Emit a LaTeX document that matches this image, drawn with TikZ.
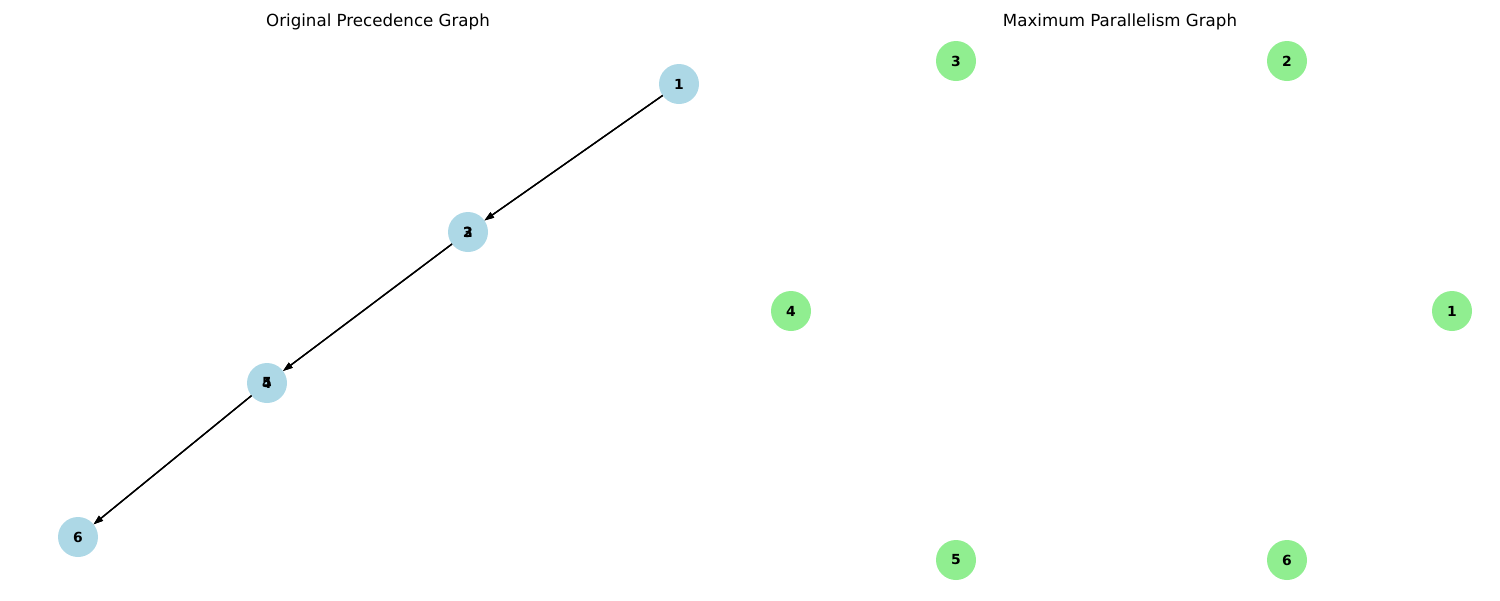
\documentclass[tikz,border=0pt]{standalone}
\usepackage{fontspec}
\setmainfont{DejaVu Sans}
\usetikzlibrary{arrows.meta}
\definecolor{mylightblue}{RGB}{173,216,230}
\definecolor{mylightgreen}{RGB}{144,238,144}
\newcommand{\sizetask}{28.8pt}
\tikzset{
    common/.style={circle, minimum size=\sizetask, inner sep=0pt, outer sep=0pt, font=\bfseries\fontsize{10}{12}\selectfont},
    origtask/.style={common, fill=mylightblue},
    stacked/.style={common},
    paratask/.style={common, fill=mylightgreen},
    heading/.style={font=\fontsize{12}{14}\selectfont},
    dep/.style={-{Triangle[length=7pt, width=4.5pt]}, line width=1pt}
}
\begin{document}
\begin{tikzpicture}[x=0.72pt, y=-0.72pt]
            \useasboundingbox (0,0) rectangle (1500,600);

            % original precedence graph
            \node[heading] (T1) at (378,22) {Original Precedence Graph};
            \node[origtask] (O1) at (679,84) {1};
            \node[origtask] (O3) at (468,232) {3};
            \node[stacked] (O2) at (468,232) {2};
            \node[origtask] (O5) at (267,383) {5};
            \node[stacked] (O4) at (267,383) {4};
            \node[origtask] (O6) at (78,537) {6};

            \draw[dep] (O1) -- (O2);
            \draw[dep] (O1) -- (O3);
            \draw[dep] (O2) -- (O4);
            \draw[dep] (O3) -- (O5);
            \draw[dep] (O4) -- (O6);
            \draw[dep] (O5) -- (O6);

            % maximum parallelism graph
            \node[heading] (T2) at (1120,22) {Maximum Parallelism Graph};
            \node[paratask] (P1) at (1452,311) {1};
            \node[paratask] (P2) at (1287,61) {2};
            \node[paratask] (P3) at (956,61) {3};
            \node[paratask] (P4) at (791,311) {4};
            \node[paratask] (P5) at (956,560) {5};
            \node[paratask] (P6) at (1287,560) {6};
        \end{tikzpicture}
\end{document}
